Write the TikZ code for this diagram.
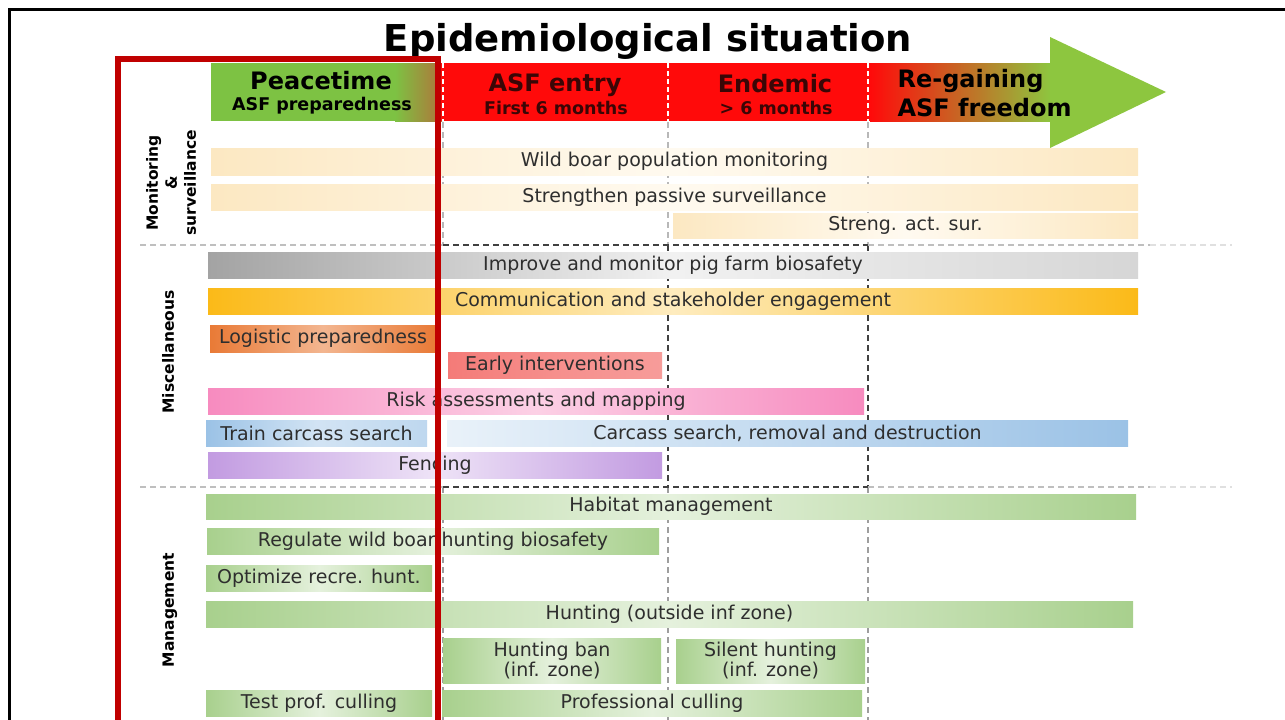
\documentclass[tikz,border=0pt]{standalone}
\usepackage{fontspec}
\setmainfont{DejaVu Sans}
\begin{document}
\definecolor{cream}{HTML}{FCE8C2}
\definecolor{creamlt}{HTML}{FFFAF0}
\definecolor{gry}{HTML}{A3A3A3}
\definecolor{gryr}{HTML}{D6D6D6}
\definecolor{amber}{HTML}{FBBA18}
\definecolor{orng}{HTML}{E97A36}
\definecolor{salmon}{HTML}{F47B78}
\definecolor{pnk}{HTML}{F78BBF}
\definecolor{skyb}{HTML}{9BC2E6}
\definecolor{purp}{HTML}{C29BE1}
\definecolor{mgrn}{HTML}{A8D08D}
\definecolor{hdrgreen}{HTML}{7DC243}
\definecolor{hdrbrown}{HTML}{B0743A}
\definecolor{hdrred}{HTML}{FF0A0A}
\definecolor{arrgreen}{HTML}{8DC63F}
\definecolor{boxred}{HTML}{C00000}
\definecolor{txt}{HTML}{2E2E2E}
\definecolor{hdrtxt}{HTML}{3A0606}
\tikzset{
  bar/.style={inner sep=0pt, text=txt, align=center,
              font=\fontsize{19}{20}\selectfont},
  % middle color must come after left/right color
  creambar/.style={bar, left color=cream, right color=cream, middle color=creamlt},
  graybar/.style={bar, left color=gry, right color=gryr, middle color=white!85!gry},
  amberbar/.style={bar, left color=amber, right color=amber, middle color=white!72!amber},
  orngbar/.style={bar, left color=orng, right color=orng, middle color=white!45!orng},
  salmonbar/.style={bar, left color=salmon, right color=white!25!salmon, middle color=white!15!salmon},
  pinkbar/.style={bar, left color=pnk, right color=pnk, middle color=white!60!pnk},
  bluebarA/.style={bar, left color=skyb, right color=white!35!skyb, middle color=white!55!skyb},
  bluebarB/.style={bar, left color=white!78!skyb, right color=skyb},
  purpbar/.style={bar, left color=purp, right color=purp, middle color=white!72!purp},
  grnbar/.style={bar, left color=mgrn, right color=mgrn, middle color=white!70!mgrn},
  title/.style={font=\bfseries\fontsize{37}{40}\selectfont, text=black},
  hdrbig/.style={font=\bfseries\fontsize{24}{26}\selectfont, align=center},
  hdrsmall/.style={font=\bfseries\fontsize{17.5}{19}\selectfont, align=center},
  seclabel/.style={rotate=90, font=\bfseries\fontsize{15.5}{19}\selectfont, align=center, text=black},
  sep/.style={dash pattern=on 6pt off 4pt, line width=1.5pt},
}
% bar node: name, x1, x2, y1, y2, style, text
\newcommand\barnode[7]{%
  \node[#6, minimum width={(#3-#2)*1pt}, minimum height={(#5-#4)*1pt}]
    (#1) at ({(#2+#3)/2},{(#4+#5)/2}) {#7};}
\begin{tikzpicture}[x=1pt,y=-1pt]
\useasboundingbox (0,0) rectangle (1285,720);
\fill[white] (0,0) rectangle (1285,720);

% outer frame (top and left edges)
\draw[line width=3pt, black] (9.5,730) -- (9.5,9) -- (1295,9);

% title
\node[title] (title) at (648,41) {Epidemiological situation};

% phase band and arrow
\fill[hdrgreen] (211,63) rectangle (396,121);
\shade[left color=hdrgreen, right color=hdrbrown] (395,63) rectangle (442,121);
\fill[hdrred] (441,63) rectangle (872,121);
\shade[left color=hdrred, right color=arrgreen] (870,63) rectangle (1051,121);
\fill[arrgreen] (1050,37) -- (1166,92) -- (1050,148) -- cycle;
\foreach \x in {443,668,868}
  \draw[white, line width=1.5pt, dash pattern=on 5pt off 3pt] (\x,63) -- (\x,121);

\node[hdrbig, text=black] (peace) at (321,81) {Peacetime};
\node[hdrsmall, text=black] (peace2) at (322,106) {ASF preparedness};
\node[hdrbig, text=hdrtxt] (entry) at (555,85) {ASF entry};
\node[hdrsmall, text=hdrtxt] (entry2) at (556,108) {First 6 months};
\node[hdrbig, text=hdrtxt] (endem) at (775,84) {Endemic};
\node[hdrsmall, text=hdrtxt] (endem2) at (776,108) {> 6 months};
\node[hdrbig, text=black, anchor=west] (regain) at (894,81) {Re-gaining};
\node[hdrbig, text=black, anchor=west] (regain2) at (894,108) {ASF freedom};

% phase boundaries
\foreach \x in {443,668,868}
  \draw[sep, black!28] (\x,122) -- (\x,245);
\foreach \x in {668,868}
  \draw[sep, black!75] (\x,245) -- (\x,487);
\foreach \x in {443,668,868}
  \draw[sep, black!38] (\x,487) -- (\x,720);

% section separators
\foreach \y in {245,487} {
  \draw[sep, black!25] (140,\y) -- (443,\y);
  \draw[sep, black!75] (443,\y) -- (868,\y);
  \draw[sep, black!25] (868,\y) -- (1150,\y);
  \draw[sep, black!12] (1150,\y) -- (1232,\y);
}

% section labels
\node[seclabel] (monlab) at (171,183) {Monitoring\\\&\\surveillance};
\node[seclabel] (misclab) at (168,352) {Miscellaneous};
\node[seclabel] (manlab) at (170,610) {Management};

% monitoring & surveillance
\barnode{wbm}{211}{1138}{148}{175}{creambar}{Wild boar population monitoring}
\barnode{sps}{211}{1138}{184}{210}{creambar}{Strengthen passive surveillance}
\barnode{sas}{673}{1138}{213}{238}{creambar}{Streng. act. sur.}

% miscellaneous
\barnode{bio}{208}{1138}{252}{278}{graybar}{Improve and monitor pig farm biosafety}
\barnode{com}{208}{1138}{288}{314}{amberbar}{Communication and stakeholder engagement}
\barnode{log}{210}{436}{325}{352}{orngbar}{Logistic preparedness}
\barnode{eai}{448}{662}{352}{378}{salmonbar}{Early interventions}
\barnode{rsk}{208}{864}{388}{414}{pinkbar}{Risk assessments and mapping}
\barnode{tcs}{206}{427}{420}{446}{bluebarA}{Train carcass search}
\barnode{csr}{447}{1128}{420}{446}{bluebarB}{Carcass search, removal and destruction}
\barnode{fen}{208}{662}{452}{478}{purpbar}{Fencing}

% management
\barnode{hab}{206}{1136}{494}{519}{grnbar}{Habitat management}
\barnode{reg}{207}{659}{528}{554}{grnbar}{Regulate wild boar hunting biosafety}
\barnode{opt}{206}{432}{565}{591}{grnbar}{Optimize recre. hunt.}
\barnode{hun}{206}{1133}{601}{627}{grnbar}{Hunting (outside inf zone)}
\barnode{ban}{443}{661}{638}{683}{grnbar}{Hunting ban\\(inf. zone)}
\barnode{sil}{676}{865}{639}{683}{grnbar}{Silent hunting\\(inf. zone)}
\barnode{tpc}{206}{432}{690}{716}{grnbar}{Test prof. culling}
\barnode{pcl}{442}{862}{690}{716}{grnbar}{Professional culling}

% peacetime highlight
\draw[boxred, line width=6pt] (118,730) -- (118,59) -- (438,59) -- (438,730);
\end{tikzpicture}
\end{document}
